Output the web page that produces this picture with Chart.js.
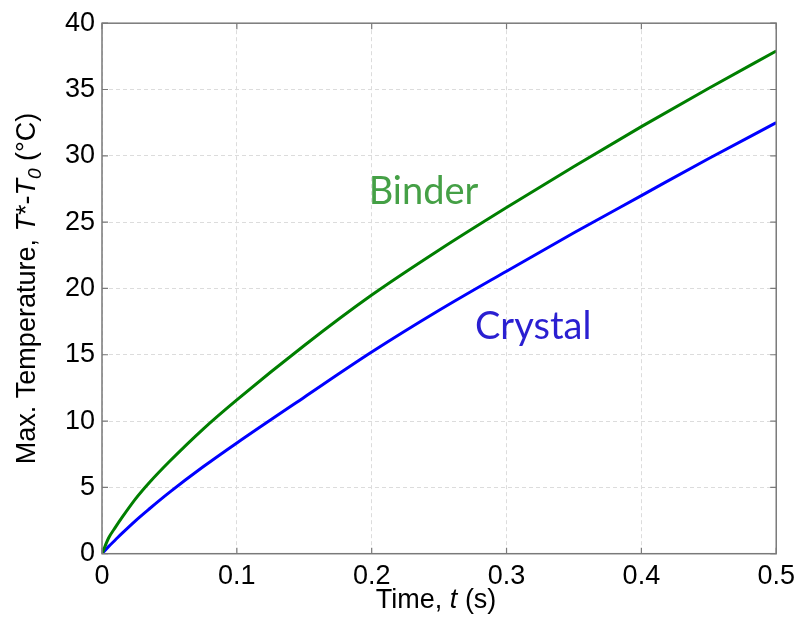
<!DOCTYPE html>
<html>
<head>
<meta charset="utf-8">
<script src="https://cdn.jsdelivr.net/npm/chart.js@4.4.1/dist/chart.umd.min.js"></script>
<style>
  html, body { margin: 0; padding: 0; background: #fff; }
  #wrap { width: 802px; height: 623px; position: relative; }
</style>
</head>
<body>
<div id="wrap"><canvas id="c" width="802" height="623"></canvas></div>
<script>
// ---- data ----
const timeValues   = [0, 0.005, 0.01, 0.015, 0.025, 0.035, 0.05, 0.075, 0.1, 0.15, 0.2, 0.25, 0.3, 0.35, 0.4, 0.45, 0.5];
const binderValues = [0, 1.2, 2.0, 2.75, 4.15, 5.35, 6.95, 9.4, 11.6, 15.7, 19.5, 22.9, 26.1, 29.2, 32.2, 35.1, 37.9];
const crystalValues= [0, 0.55, 1.05, 1.55, 2.5, 3.37, 4.62, 6.55, 8.35, 11.8, 15.2, 18.35, 21.3, 24.2, 27.0, 29.8, 32.5];
const xTickValues  = [0, 0.1, 0.2, 0.3, 0.4, 0.5];
const xTickLabels  = ['0', '0.1', '0.2', '0.3', '0.4', '0.5'];
const yTickValues  = [0, 5, 10, 15, 20, 25, 30, 35, 40];
const yTickLabels  = ['0', '5', '10', '15', '20', '25', '30', '35', '40'];
const seriesNames  = ['Binder', 'Crystal'];
// label anchor positions in data units
const labelAnchors = [{t: 0.2384, v: 27.3}, {t: 0.3198, v: 17.1}];

const GREEN = '#007f00', BLUE = '#0000ff';
const LABEL_COLORS = ['#45a046', '#2a1fd1'];
const AXIS_COLOR = '#7a7a7a';

function pts(xs, ys) { return xs.map((x, i) => ({x: x, y: ys[i]})); }

const overlay = {
  id: 'overlay',
  afterDatasetsDraw(chart) {
    const ctx = chart.ctx, a = chart.chartArea;
    const xs = chart.scales.x, ys = chart.scales.y;
    ctx.save();
    // inward ticks
    ctx.strokeStyle = AXIS_COLOR; ctx.lineWidth = 1.2;
    const tl = 6;
    ctx.beginPath();
    xTickValues.forEach(v => {
      const px = xs.getPixelForValue(v);
      ctx.moveTo(px, a.bottom); ctx.lineTo(px, a.bottom - tl);
      ctx.moveTo(px, a.top); ctx.lineTo(px, a.top + tl);
    });
    yTickValues.forEach(v => {
      const py = ys.getPixelForValue(v);
      ctx.moveTo(a.left, py); ctx.lineTo(a.left + tl, py);
      ctx.moveTo(a.right, py); ctx.lineTo(a.right - tl, py);
    });
    ctx.stroke();
    // box
    ctx.lineWidth = 1.5;
    ctx.strokeRect(a.left, a.top, a.right - a.left, a.bottom - a.top);
    // series labels
    ctx.font = '38px Lato, "Open Sans", sans-serif';
    ctx.textAlign = 'center'; ctx.textBaseline = 'middle';
    seriesNames.forEach((n, i) => {
      ctx.fillStyle = LABEL_COLORS[i];
      ctx.fillText(n, xs.getPixelForValue(labelAnchors[i].t), ys.getPixelForValue(labelAnchors[i].v));
    });
    ctx.restore();
  },
  afterDraw(chart) {
    const ctx = chart.ctx, a = chart.chartArea;
    const F = '"Liberation Sans", Arial, sans-serif';
    const norm = '27px ' + F, ital = 'italic 27px ' + F, sub = 'italic 19px ' + F;
    function drawRich(segs, cx, cy) {
      let w = 0;
      segs.forEach(s => { ctx.font = s.f; s.w = ctx.measureText(s.t).width; w += s.w; });
      let x = cx - w / 2;
      segs.forEach(s => {
        ctx.font = s.f;
        ctx.fillText(s.t, x, cy + (s.dy || 0));
        x += s.w;
      });
    }
    ctx.save();
    ctx.fillStyle = '#000';
    ctx.textAlign = 'left'; ctx.textBaseline = 'alphabetic';
    drawRich([{t: 'Time, ', f: norm}, {t: 't', f: ital}, {t: ' (s)', f: norm}],
             (a.left + a.right) / 2 - 3, 608);
    ctx.translate(35, (a.top + a.bottom) / 2);
    ctx.rotate(-Math.PI / 2);
    drawRich([{t: 'Max. Temperature, ', f: norm}, {t: 'T', f: ital}, {t: '*-', f: norm},
              {t: 'T', f: ital}, {t: '0', f: sub, dy: 6}, {t: ' (\u00B0C)', f: norm}], 0, 0);
    ctx.restore();
  }
};

new Chart(document.getElementById('c'), {
  type: 'line',
  data: {
    datasets: [
      {label: seriesNames[0], data: pts(timeValues, binderValues), borderColor: GREEN,
       borderWidth: 3, pointRadius: 0, fill: false, cubicInterpolationMode: 'monotone'},
      {label: seriesNames[1], data: pts(timeValues, crystalValues), borderColor: BLUE,
       borderWidth: 3, pointRadius: 0, fill: false, cubicInterpolationMode: 'monotone'}
    ]
  },
  options: {
    responsive: false,
    animation: false,
    layout: {padding: {left: 0, right: 24, top: 21, bottom: 0}},
    plugins: {legend: {display: false}, tooltip: {enabled: false}},
    scales: {
      x: {
        type: 'linear', min: 0, max: 0.5,
        afterFit: s => { s.height = 69.3; },
        afterBuildTicks: s => { s.ticks = xTickValues.map(v => ({value: v})); },
        ticks: {
          color: '#000', padding: 7, maxRotation: 0,
          font: {family: '"Liberation Sans", Arial, sans-serif', size: 27},
          callback: (v) => { const i = xTickValues.indexOf(v); return i >= 0 ? xTickLabels[i] : ''; }
        },
        grid: {color: '#dcdcdc', lineWidth: 1, drawTicks: false},
        border: {display: false, dash: [4, 3]}
      },
      y: {
        type: 'linear', min: 0, max: 40,
        afterFit: s => { s.width = 102; },
        afterBuildTicks: s => { s.ticks = yTickValues.map(v => ({value: v})); },
        ticks: {
          color: '#000', padding: 7,
          font: {family: '"Liberation Sans", Arial, sans-serif', size: 27},
          callback: (v) => { const i = yTickValues.indexOf(v); return i >= 0 ? yTickLabels[i] : ''; }
        },
        grid: {color: '#dcdcdc', lineWidth: 1, drawTicks: false},
        border: {display: false, dash: [4, 3]}
      }
    }
  },
  plugins: [overlay]
});
</script>
</body>
</html>
